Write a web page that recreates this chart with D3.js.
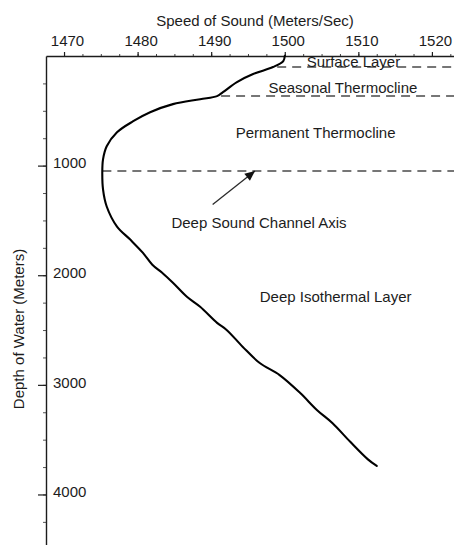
<!DOCTYPE html>
<html>
<head>
<meta charset="utf-8">
<script src="https://cdn.jsdelivr.net/npm/d3@7"></script>
<style>
  html, body { margin: 0; padding: 0; background: #fff; }
  svg { display: block; font-family: "Liberation Sans", Arial, sans-serif; }
</style>
</head>
<body>
<svg id="chart" width="454" height="545"></svg>
<script>
// Sound speed profile: speed (m/s) against depth (m)
const speed = [1500.0, 1499.8, 1498.4, 1495.7, 1493.5, 1491.6, 1490.8, 1488.5, 1484.8, 1481.7,
               1479.4, 1477.2, 1475.8, 1475.3, 1475.2, 1475.3, 1475.8, 1477.2, 1479.0, 1480.7,
               1482.0, 1483.3, 1484.8, 1486.7, 1488.5, 1490.8, 1492.1, 1494.3, 1496.6, 1499.3,
               1502.1, 1504.4, 1506.5, 1508.9, 1511.3, 1512.5];
const depth = [0, 46, 101, 165, 238, 330, 366, 394, 439, 513,
               595, 696, 824, 943, 1062, 1217, 1373, 1556, 1675, 1794,
               1904, 1975, 2069, 2197, 2288, 2435, 2499, 2654, 2801, 2911,
               3075, 3231, 3350, 3520, 3680, 3740];

// Tick labels
const speedTicks = [1470, 1480, 1490, 1500, 1510, 1520];
const depthTicks = [1000, 2000, 3000, 4000];

// Layer boundaries (depth in m) and layer names
const boundaryDepth = [100, 366, 1050];
const layerNames = ["Surface Layer", "Seasonal Thermocline", "Permanent Thermocline",
                    "Deep Sound Channel Axis", "Deep Isothermal Layer"];

const xTitle = "Speed of Sound (Meters/Sec)";
const yTitle = "Depth of Water (Meters)";

const svg = d3.select("#chart");
const x = d3.scaleLinear().domain([1467.55, 1523]).range([46, 454]);
const y = d3.scaleLinear().domain([0, 4461]).range([56, 545]);

const ink = "#1c1c1c";
const fontSize = 15;

// Minor ticks on the top axis
svg.append("g")
  .attr("transform", `translate(0,${y(0)})`)
  .call(d3.axisTop(x).tickValues(d3.range(1470, 1523, 2.5)).tickSize(2).tickFormat(""))
  .call(g => g.select(".domain").remove())
  .call(g => g.selectAll("line").attr("stroke", "#444"));

// Top axis
svg.append("g")
  .attr("transform", `translate(0,${y(0)})`)
  .call(d3.axisTop(x).tickValues(speedTicks).tickSize(4).tickPadding(6).tickSizeOuter(0)
          .tickFormat(d3.format("d")))
  .call(g => g.select(".domain").attr("stroke", ink).attr("stroke-width", 1.4))
  .call(g => g.selectAll("line").attr("stroke", ink).attr("stroke-width", 1.2))
  .call(g => g.selectAll("text").attr("dx", 3).attr("font-size", fontSize).attr("fill", ink)
              .attr("font-family", "Liberation Sans, Arial, sans-serif"));

// Minor ticks on the depth axis
svg.append("g")
  .attr("transform", `translate(${x(x.domain()[0])},0)`)
  .call(d3.axisLeft(y).tickValues(d3.range(250, 4461, 250)).tickSize(3).tickFormat(""))
  .call(g => g.select(".domain").remove())
  .call(g => g.selectAll("line").attr("stroke", "#555"));

// Depth axis: ticks point out, labels sit inside the frame
svg.append("g")
  .attr("transform", `translate(${x(x.domain()[0])},0)`)
  .call(d3.axisLeft(y).tickValues(depthTicks).tickSize(8).tickSizeOuter(0).tickFormat(d3.format("d")))
  .call(g => g.select(".domain").attr("stroke", ink).attr("stroke-width", 1.4))
  .call(g => g.selectAll("line").attr("stroke", ink).attr("stroke-width", 1.2))
  .call(g => g.selectAll("text").attr("x", 7).attr("dy", "0.15em").attr("text-anchor", "start")
              .attr("font-size", fontSize).attr("fill", ink)
              .attr("font-family", "Liberation Sans, Arial, sans-serif"));

// Axis titles
svg.append("text")
  .attr("x", 255).attr("y", 26)
  .attr("text-anchor", "middle")
  .attr("font-size", fontSize).attr("fill", ink)
  .text(xTitle);

svg.append("text")
  .attr("transform", `translate(24,${329}) rotate(-90)`)
  .attr("text-anchor", "middle")
  .attr("font-size", fontSize).attr("fill", ink)
  .text(yTitle);

// Speed of sound at a given depth along the profile
function speedAt(d) {
  const i = d3.bisectLeft(depth, d);
  if (i <= 0) return speed[0];
  if (i >= depth.length) return speed[speed.length - 1];
  const t = (d - depth[i - 1]) / (depth[i] - depth[i - 1]);
  return speed[i - 1] + t * (speed[i] - speed[i - 1]);
}

// Dashed layer boundaries, starting at the profile
svg.append("g").selectAll("line")
  .data(boundaryDepth)
  .join("line")
  .attr("x1", (d, i) => x(speedAt(d)) + (i === 2 ? 0 : 4))
  .attr("x2", x.range()[1])
  .attr("y1", d => y(d))
  .attr("y2", d => y(d))
  .attr("stroke", "#4a4a4a")
  .attr("stroke-width", 1.5)
  .attr("stroke-dasharray", "9,6");

// Sound speed profile
const line = d3.line()
  .x((d, i) => x(speed[i]))
  .y(d => y(d))
  .curve(d3.curveCatmullRom.alpha(0.5));

svg.append("path")
  .datum(depth)
  .attr("d", line)
  .attr("fill", "none")
  .attr("stroke", "#000")
  .attr("stroke-width", 2.1)
  .attr("stroke-linejoin", "round")
  .attr("stroke-linecap", "round");

// Layer names
const labels = [
  { text: layerNames[0], x: x(1503.0), y: 67, anchor: "start" },
  { text: layerNames[1], x: x(1507.9), y: 93, anchor: "middle" },
  { text: layerNames[2], x: x(1504.2), y: 138, anchor: "middle" },
  { text: layerNames[3], x: x(1496.5), y: 228, anchor: "middle" },
  { text: layerNames[4], x: x(1496.6), y: 302, anchor: "start" }
];
svg.append("g").selectAll("text")
  .data(labels)
  .join("text")
  .attr("x", d => d.x)
  .attr("y", d => d.y)
  .attr("text-anchor", d => d.anchor)
  .attr("font-size", fontSize)
  .attr("fill", ink)
  .text(d => d.text);

// Arrow pointing at the deep sound channel axis
const tip = [x(1495.95), y(boundaryDepth[2])];
const tail = [x(1490.2), y(1355)];
svg.append("line")
  .attr("x1", tail[0]).attr("y1", tail[1])
  .attr("x2", tip[0]).attr("y2", tip[1])
  .attr("stroke", "#2a2a2a").attr("stroke-width", 1.3);

const ang = Math.atan2(tip[1] - tail[1], tip[0] - tail[0]);
const len = 10, half = 4.5;
const bx = tip[0] - len * Math.cos(ang), by = tip[1] - len * Math.sin(ang);
svg.append("path")
  .attr("d", `M${tip[0]},${tip[1]}L${bx - half * Math.sin(ang)},${by + half * Math.cos(ang)}L${bx + half * Math.sin(ang)},${by - half * Math.cos(ang)}Z`)
  .attr("fill", "#111");
</script>
</body>
</html>
